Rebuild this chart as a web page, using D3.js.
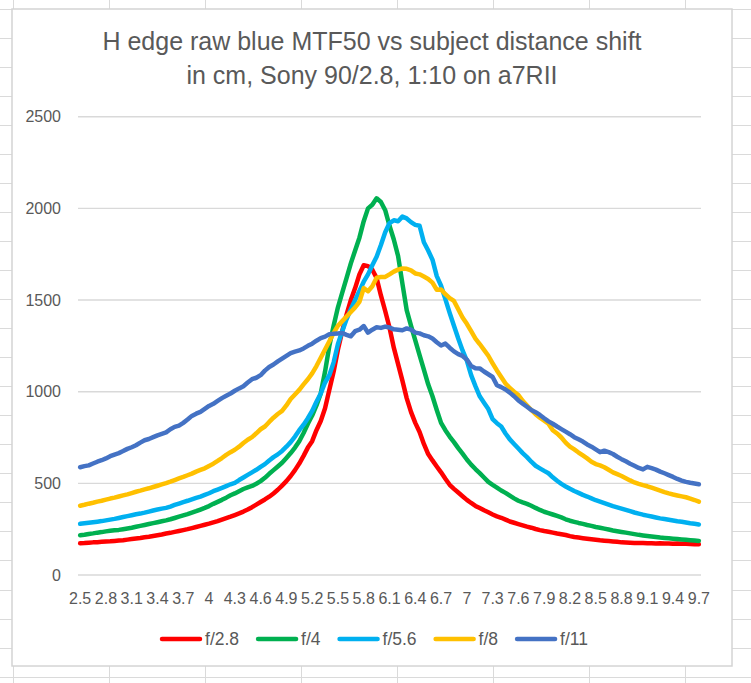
<!DOCTYPE html>
<html><head><meta charset="utf-8">
<script src="https://cdn.jsdelivr.net/npm/d3@7"></script>
<style>
body{margin:0;background:#fff;}
svg{display:block;font-family:"Liberation Sans",Arial,sans-serif;}
</style>
</head><body>
<svg id="c" width="751" height="683"></svg>
<script>
const categories = [
2.5,2.55,2.6,2.65,2.7,2.75,2.8,2.85,2.9,2.95,
3,3.05,3.1,3.15,3.2,3.25,3.3,3.35,3.4,3.45,3.5,3.55,3.6,3.65,3.7,3.75,3.8,3.85,3.9,3.95,
4,4.05,4.1,4.15,4.2,4.25,4.3,4.35,4.4,4.45,4.5,4.55,4.6,4.65,4.7,4.75,4.8,4.85,4.9,4.95,
5,5.05,5.1,5.15,5.2,5.25,5.3,5.35,5.4,5.45,5.5,5.55,5.6,5.65,5.7,5.75,5.8,5.85,5.9,5.95,
6,6.05,6.1,6.15,6.2,6.25,6.3,6.35,6.4,6.45,6.5,6.55,6.6,6.65,6.7,6.75,6.8,6.85,6.9,6.95,
7,7.05,7.1,7.15,7.2,7.25,7.3,7.35,7.4,7.45,7.5,7.55,7.6,7.65,7.7,7.75,7.8,7.85,7.9,7.95,
8,8.05,8.1,8.15,8.2,8.25,8.3,8.35,8.4,8.45,8.5,8.55,8.6,8.65,8.7,8.75,8.8,8.85,8.9,8.95,
9,9.05,9.1,9.15,9.2,9.25,9.3,9.35,9.4,9.45,9.5,9.55,9.6,9.65,9.7];

const tickLabels = ["2.5","2.8","3.1","3.4","3.7","4","4.3","4.6","4.9","5.2","5.5","5.8","6.1",
"6.4","6.7","7","7.3","7.6","7.9","8.2","8.5","8.8","9.1","9.4","9.7"];
const yTicks = [0,500,1000,1500,2000,2500];

const seriesNames = ["f/2.8","f/4","f/5.6","f/8","f/11"];
const seriesColors = ["#FF0000","#00B050","#00B0F0","#FFC000","#4472C4"];

const f28 = [
173,174,176,178,179,181, 183,184,186,188,190,193, 196,199,202,206,209,213, 217,221,226,230,235,240,
245,250,256,262,268,274, 280,287,294,302,310,318, 327,336,346,357,370,384, 398,412,427,445,465,488,
512,540,572,608,650,695, 730,790,840,910,1010,1110, 1230,1330,1420,1500,1565,1640, 1690,1685,1665,1620,1525,1440,
1350,1240,1150,1060,965,890, 830,780,715,660,625,592, 560,525,492,470,450,430, 410,393,377,365,353,342,
330,320,312,302,292,285, 278,271,264,258,251,245, 240,236,231,226,222,218, 212,207,204,201,198,195,
192,189,187,185,183,181, 178,177,176,175,174,174, 173,173,172,173,172,172, 171,172,171,170,169,168, 168];

const f4 = [
217,220,224,227,231,234, 238,241,244,246,250,254, 258,263,268,273,278,283, 288,293,298,304,311,318,
325,332,340,348,357,366, 376,388,399,410,422,435, 445,457,469,478,486,498, 512,530,552,572,592,612,
638,665,695,730,775,825, 870,925,990,1110,1250,1360, 1460,1540,1620,1700,1770,1840, 1930,2000,2020,2055,2035,1990,
1905,1830,1740,1590,1445,1360, 1280,1200,1120,1040,975,900, 830,790,755,725,692,662, 630,602,578,556,532,508,
492,477,461,448,433,418, 405,396,388,378,366,355, 345,338,330,322,314,304, 296,290,284,279,273,268,
262,258,253,248,243,239, 235,231,227,223,219,216, 213,210,207,204,202,200, 198,196,194,192,190,188, 186];

const f56 = [
279,282,285,288,291,294, 298,302,306,311,316,321, 326,331,335,340,346,352, 357,362,366,373,382,390,
398,405,413,421,428,437, 446,457,466,475,485,495, 503,518,532,546,560,574, 590,605,625,643,658,677,
700,725,755,790,820,855, 895,945,990,1050,1090,1160, 1260,1330,1395,1450,1500,1550, 1600,1640,1690,1736,1800,1870,
1920,1935,1930,1955,1945,1925, 1910,1905,1815,1770,1720,1630, 1578,1505,1430,1360,1290,1225, 1170,1090,1030,975,940,905,
850,828,810,772,740,715, 690,665,643,618,596,582, 568,555,533,514,497,483, 470,458,448,437,428,418,
408,400,392,384,376,369, 362,355,348,341,335,329, 324,319,314,309,305,301, 297,293,290,286,282,279, 276];

const f8 = [
378,383,389,394,400,405, 411,417,422,428,434,440, 447,454,460,467,473,480, 487,494,501,509,518,527,
535,544,553,564,573,582, 595,607,622,638,655,670, 683,700,720,738,752,773, 795,810,835,858,878,895,
925,960,985,1010,1040,1068, 1100,1140,1185,1230,1275,1320, 1360,1385,1410,1435,1460,1490, 1565,1548,1575,1622,1625,1626,
1640,1655,1666,1672,1670,1662, 1645,1640,1628,1615,1595,1556, 1558,1532,1510,1495,1450,1405, 1370,1330,1290,1260,1228,1196,
1155,1116,1080,1045,1020,1000, 982,950,925,900,877,858, 842,825,790,772,750,722, 700,685,668,652,636,618,
605,598,588,574,560,550, 540,528,516,505,497,490, 484,476,468,460,452,445, 439,434,429,424,417,409, 400];

const f11 = [
588,594,598,608,618,626, 636,648,657,665,676,688, 697,708,722,735,742,752, 762,770,778,795,808,815,
830,848,868,880,890,906, 922,934,950,965,978,990, 1005,1018,1030,1050,1068,1076, 1090,1115,1135,1148,1165,1180,
1195,1210,1218,1225,1236,1250, 1262,1278,1292,1300,1314,1316, 1318,1320,1310,1302,1330,1338, 1358,1322,1338,1351,1348,1355,
1350,1340,1338,1335,1345,1338, 1322,1318,1308,1302,1290,1270, 1252,1262,1240,1220,1205,1195, 1175,1140,1128,1127,1110,1095,
1080,1035,1025,1012,995,975, 952,935,918,900,888,873, 855,838,825,810,796,782, 768,752,740,728,712,700,
685,670,678,670,660,645, 632,620,607,596,584,576, 590,583,575,564,555,545, 535,524,515,508,503,499, 495];

const seriesValues = [f28, f4, f56, f8, f11];

const svg = d3.select("#c");
const W = 751, H = 683;

// spreadsheet grid behind the chart
const sheet = svg.append("g");
for (let k = 0; k < 25; k++) {
  const yy = Math.round(8.9 + 29.03 * k) + 0.5;
  if (yy < H) sheet.append("line").attr("x1",0).attr("x2",W).attr("y1",yy).attr("y2",yy)
    .attr("stroke","#dadada").attr("stroke-width",1);
}
for (let k = 0; k < 9; k++) {
  const xx = Math.round(12.5 + 96.07 * k) + 0.5;
  if (xx < W) sheet.append("line").attr("x1",xx).attr("x2",xx).attr("y1",0).attr("y2",H)
    .attr("stroke","#dadada").attr("stroke-width",1);
}

// chart box
svg.append("rect").attr("x",12).attr("y",9).attr("width",720).attr("height",657)
  .attr("fill","#fff").attr("stroke","#d4d4d4").attr("stroke-width",1.5);

// title
const title = svg.append("g").attr("fill","#595959").attr("font-size",25).attr("text-anchor","middle");
title.append("text").attr("x",372).attr("y",50).text("H edge raw blue MTF50 vs subject distance shift");
title.append("text").attr("x",372).attr("y",84).text("in cm, Sony 90/2.8, 1:10 on a7RII");

// scales
const plotL = 78, plotR = 701, plotT = 116.7, plotB = 575;
const x = d3.scaleBand().domain(categories).range([plotL, plotR]).padding(0);
const cx = d => x(d) + x.bandwidth() / 2;
const y = d3.scaleLinear().domain([0, 2500]).range([plotB, plotT]);

// gridlines
svg.append("g").selectAll("line").data(yTicks).join("line")
  .attr("x1", plotL).attr("x2", plotR)
  .attr("y1", d => y(d)).attr("y2", d => y(d))
  .attr("stroke","#d9d9d9").attr("stroke-width",1.4);

// y axis
const yAxis = svg.append("g").attr("transform", `translate(${plotL},0)`)
  .call(d3.axisLeft(y).tickValues(yTicks).tickSize(0).tickPadding(17).tickFormat(d3.format("d")));
yAxis.select(".domain").remove();
yAxis.selectAll("text").attr("fill","#595959").attr("font-size",16)
  .attr("font-family",'"Liberation Sans",Arial,sans-serif');

// x axis
const tickCats = categories.filter((d, i) => i % 6 === 0);
const xAxis = svg.append("g").attr("transform", `translate(0,${plotB})`)
  .call(d3.axisBottom(x).tickValues(tickCats).tickSize(0).tickPadding(18)
    .tickFormat((d, i) => tickLabels[i]));
xAxis.select(".domain").remove();
xAxis.selectAll("text").attr("fill","#595959").attr("font-size",16)
  .attr("font-family",'"Liberation Sans",Arial,sans-serif');

// series lines
const line = d3.line().x((d, i) => cx(categories[i])).y(d => y(d));
seriesValues.forEach((vals, s) => {
  svg.append("path").datum(vals)
    .attr("d", line)
    .attr("fill","none")
    .attr("stroke", seriesColors[s])
    .attr("stroke-width",4.5)
    .attr("stroke-linejoin","round")
    .attr("stroke-linecap","round");
});

// legend
const legend = svg.append("g");
let cur = 0;
seriesNames.forEach((name, s) => {
  const g = legend.append("g");
  g.append("line").attr("x1",cur+2).attr("x2",cur+40).attr("y1",0).attr("y2",0)
    .attr("stroke",seriesColors[s]).attr("stroke-width",4.5).attr("stroke-linecap","round");
  const t = g.append("text").attr("x",cur+45).attr("y",0).attr("dy","0.35em")
    .attr("fill","#595959").attr("font-size",17.5).text(name);
  const w = t.node().getComputedTextLength();
  cur += 45 + w + 17;
});
const total = cur - 17;
legend.attr("transform", `translate(${374 - total/2},639)`);
</script>
</body></html>
